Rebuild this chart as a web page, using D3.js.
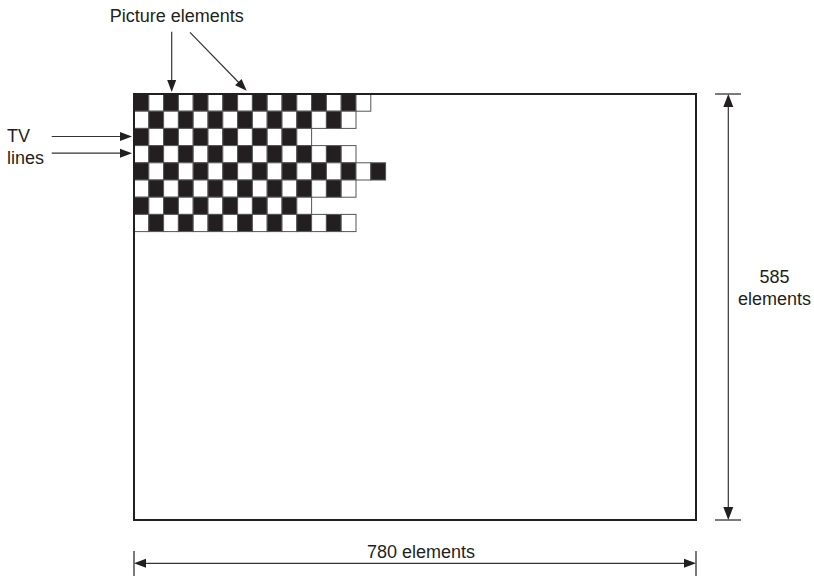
<!DOCTYPE html>
<html>
<head>
<meta charset="utf-8">
<script src="https://cdn.jsdelivr.net/npm/d3@7/dist/d3.min.js"></script>
<style>
  html, body { margin: 0; padding: 0; background: #fff; }
  svg { display: block; }
  text { font-family: "Liberation Sans", Arial, sans-serif; fill: #231f20; }
</style>
</head>
<body>
<script>
// ---- data ----
const rowLengths = [16, 15, 12, 15, 17, 15, 12, 15];   // picture elements drawn per TV line
const widthElements = 780;
const heightElements = 585;
const topLabel = "Picture elements";
const sideLabels = ["TV", "lines"];
const widthLabel = "780 elements";
const heightLabel = ["585", "elements"];

const W = 814, H = 576;
const svg = d3.select("body").append("svg").attr("width", W).attr("height", H);

// scales: raster in elements -> pixels
const xEl = d3.scaleLinear().domain([0, widthElements]).range([134, 696]);
const yEl = d3.scaleLinear().domain([0, heightElements]).range([94, 520]);
// checkerboard cell scales (column / row index -> pixels)
const colX = d3.scaleLinear().domain([0, 1]).range([xEl(0), xEl(0) + 14.8]);
const rowY = d3.scaleLinear().domain([0, 1]).range([yEl(0), yEl(0) + 17.2]);

const ink = "#231f20";

// checkerboard cells
const cells = [];
rowLengths.forEach((n, r) => {
  for (let c = 0; c < n; c++) cells.push({ r, c });
});
svg.append("g").selectAll("rect").data(cells).join("rect")
  .attr("x", d => colX(d.c))
  .attr("y", d => rowY(d.r))
  .attr("width", colX(1) - colX(0))
  .attr("height", rowY(1) - rowY(0))
  .attr("fill", d => (d.r + d.c) % 2 === 0 ? ink : "#fff")
  .attr("stroke", "#555")
  .attr("stroke-width", 1);

// frame rectangle
svg.append("rect")
  .attr("x", xEl(0)).attr("y", yEl(0))
  .attr("width", xEl(widthElements) - xEl(0))
  .attr("height", yEl(heightElements) - yEl(0))
  .attr("fill", "none").attr("stroke", ink).attr("stroke-width", 2);

// helpers
function line(x1, y1, x2, y2, w) {
  svg.append("line").attr("x1", x1).attr("y1", y1).attr("x2", x2).attr("y2", y2)
    .attr("stroke", "#333").attr("stroke-width", w || 1.2);
}
function head(tx, ty, fx, fy, len, hw) {
  len = len || 12; hw = hw || 4.5;
  const dx = tx - fx, dy = ty - fy, L = Math.hypot(dx, dy);
  const ux = dx / L, uy = dy / L;
  const bx = tx - ux * len, by = ty - uy * len;
  const px = -uy * hw, py = ux * hw;
  svg.append("path")
    .attr("d", `M${tx},${ty}L${bx + px},${by + py}L${bx - px},${by - py}Z`)
    .attr("fill", ink);
}
function arrow(x1, y1, x2, y2) {
  const dx = x2 - x1, dy = y2 - y1, L = Math.hypot(dx, dy);
  line(x1, y1, x2 - dx / L * 8, y2 - dy / L * 8);
  head(x2, y2, x1, y1);
}

// picture element pointer arrows
arrow(171.7, 31.7, 171.7, 92);
arrow(190, 32.3, 246.7, 90.7);
// TV line pointer arrows
arrow(51.7, (rowY(2) + rowY(3)) / 2 - 0.5, 132, (rowY(2) + rowY(3)) / 2 - 0.5);
arrow(51.7, (rowY(3) + rowY(4)) / 2 - 1, 132, (rowY(3) + rowY(4)) / 2 - 1);

// vertical dimension (585)
const dimX = 728.3;
line(dimX, yEl(0) + 8, dimX, yEl(heightElements) - 8);
head(dimX, yEl(0), dimX, yEl(heightElements), 13, 5);
head(dimX, yEl(heightElements), dimX, yEl(0), 13, 5);
line(715, yEl(0), 741, yEl(0), 1.3);
line(715, yEl(heightElements), 741, yEl(heightElements), 1.3);

// horizontal dimension (780)
const dimY = 563.3;
line(xEl(0) + 8, dimY, xEl(widthElements) - 8, dimY);
head(xEl(0), dimY, xEl(widthElements), dimY, 12, 4.5);
head(xEl(widthElements), dimY, xEl(0), dimY, 12, 4.5);
line(xEl(0), 551, xEl(0), 576, 1.3);
line(xEl(widthElements), 551, xEl(widthElements), 576, 1.3);

// labels
const fs = "18px";
svg.append("text").attr("x", 176.7).attr("y", 21.7).attr("text-anchor", "middle")
  .style("font-size", fs).text(topLabel);
sideLabels.forEach((t, i) => {
  svg.append("text").attr("x", 7).attr("y", 141.7 + i * 22.6)
    .style("font-size", fs).text(t);
});
heightLabel.forEach((t, i) => {
  svg.append("text").attr("x", 774.5).attr("y", 283 + i * 22)
    .attr("text-anchor", "middle").style("font-size", fs).text(t);
});
svg.append("text").attr("x", 421).attr("y", 557.7).attr("text-anchor", "middle")
  .style("font-size", fs).text(widthLabel);
</script>
</body>
</html>
